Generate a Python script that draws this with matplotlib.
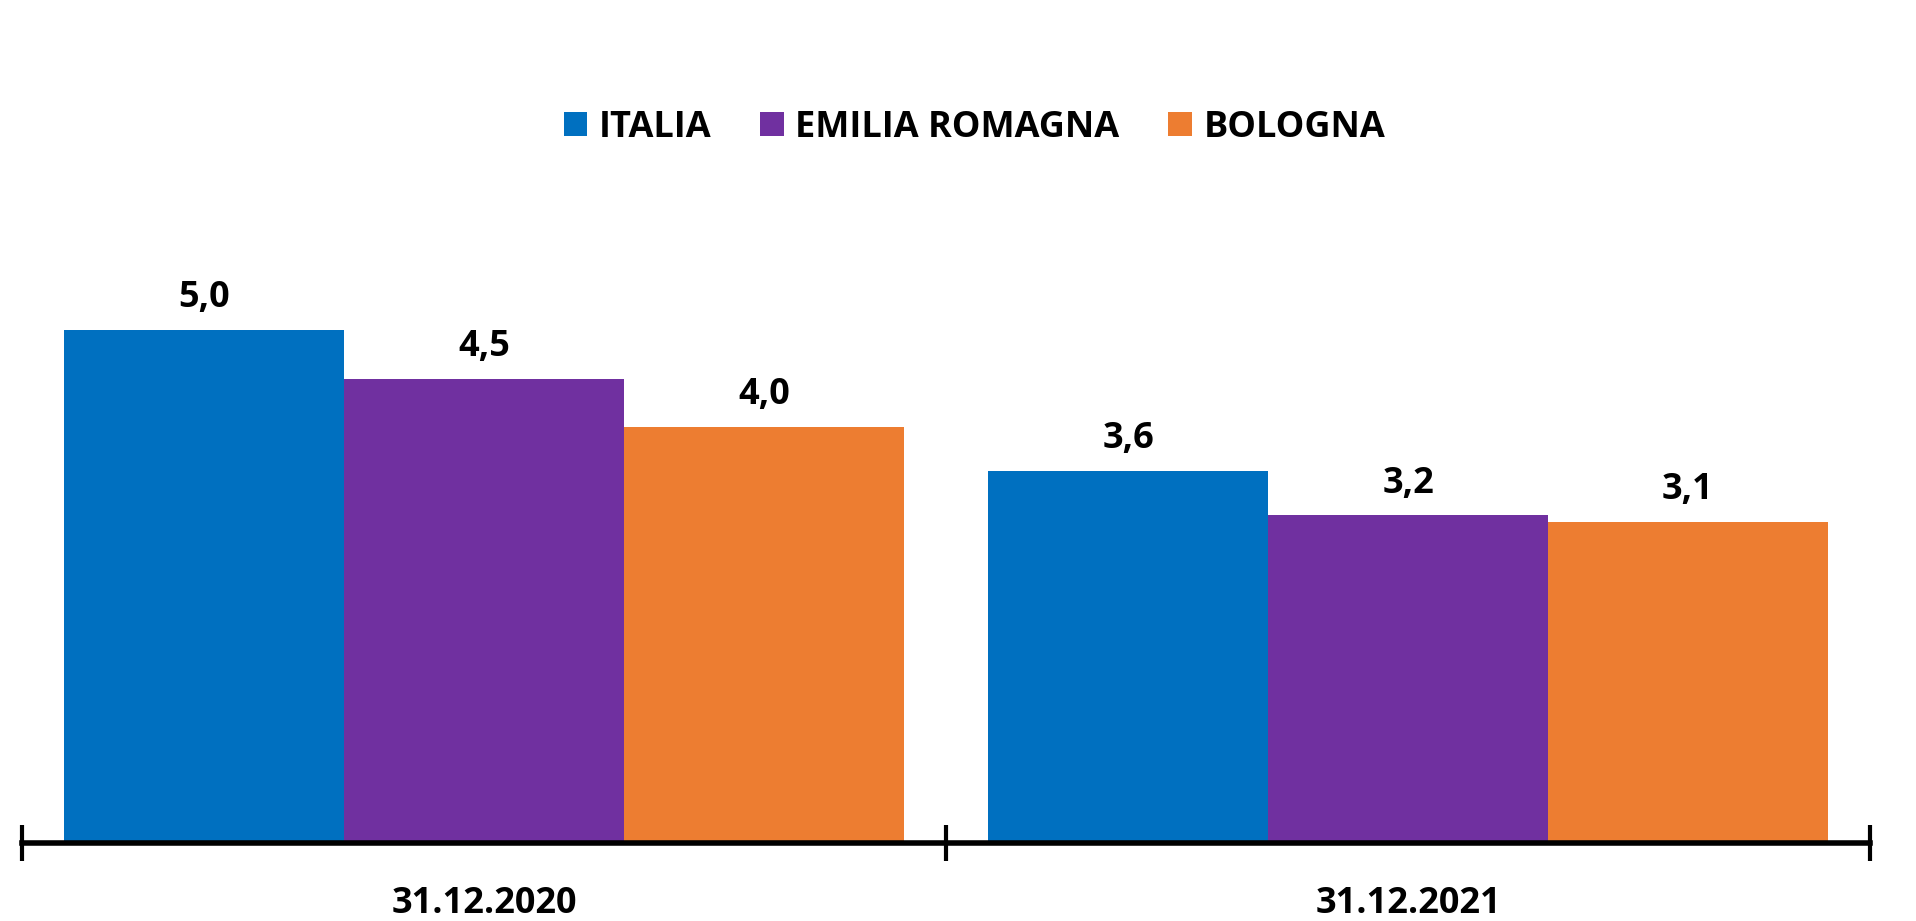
import matplotlib
matplotlib.use("Agg")
import matplotlib.pyplot as plt
import numpy as np

categories = ["31.12.2020", "31.12.2021"]
series = ["ITALIA", "EMILIA ROMAGNA", "BOLOGNA"]
values = {
    "ITALIA": [5.0, 3.62],
    "EMILIA ROMAGNA": [4.52, 3.19],
    "BOLOGNA": [4.05, 3.13],
}
colors = ["#0070C0", "#7030A0", "#ED7D31"]

plt.rcParams['font.family'] = ['Open Sans', 'DejaVu Sans']

fig = plt.figure(figsize=(19.16, 9.21), dpi=100)
ax = fig.add_axes([0.0115, 0.0847, 0.9645, 0.669])

w = 0.303
x = np.arange(len(categories)) + 0.5
for i, s in enumerate(series):
    pos = x + (i - 1) * w
    bars = ax.bar(pos, values[s], width=w, color=colors[i], label=s, zorder=2)
    for b, v in zip(bars, values[s]):
        ax.annotate(f"{v:.1f}".replace(".", ","), (b.get_x() + b.get_width() / 2, v),
                    xytext=(0, 10), textcoords="offset points", ha="center", va="bottom",
                    fontsize=26, fontweight="bold", color="black")

ax.set_xlim(0, 2)
ax.set_ylim(0, 6)
for sp in ["top", "left", "right"]:
    ax.spines[sp].set_visible(False)
ax.spines["bottom"].set_linewidth(4)
ax.spines["bottom"].set_zorder(3)
ax.set_yticks([])
ax.set_xticks([0, 1, 2])
ax.set_xticklabels([])
ax.tick_params(axis="x", direction="inout", length=26, width=3, color="black")
ax.set_xticks(x, minor=True)
ax.set_xticklabels(categories, minor=True, fontsize=26, fontweight="bold")
ax.tick_params(axis="x", which="minor", length=0, pad=31)

leg = fig.legend(loc="center", bbox_to_anchor=(0.5086, 0.861), ncol=3, frameon=False,
                 prop={"size": 26, "weight": "bold"}, handlelength=0.65, handleheight=0.65,
                 handletextpad=0.32, columnspacing=1.35)

fig.savefig("out.png", dpi=100, facecolor="white")
